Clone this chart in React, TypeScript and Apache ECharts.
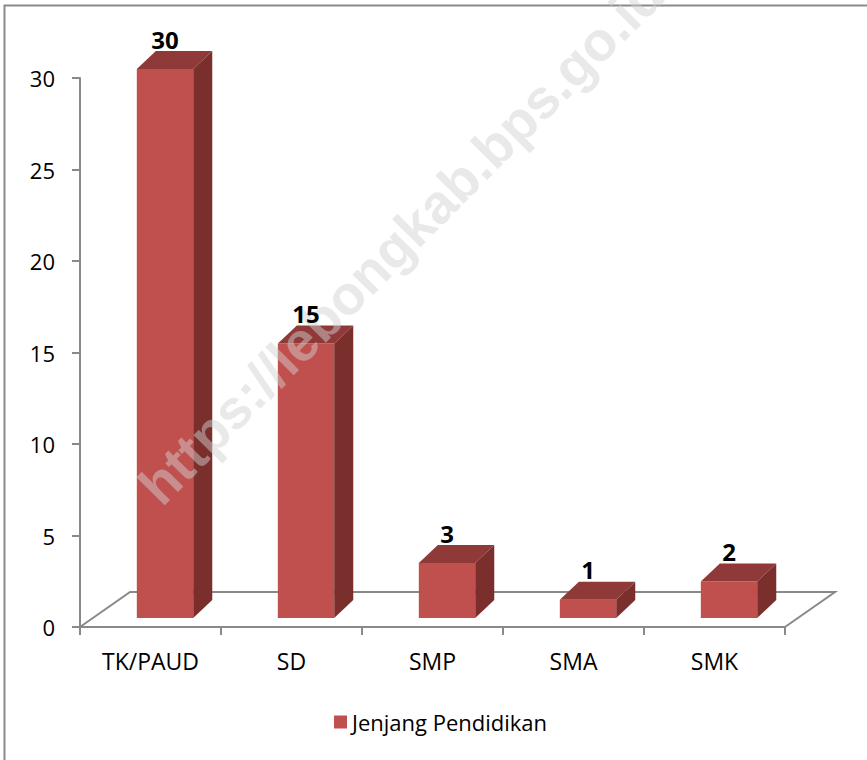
import React, { useEffect, useRef } from "react";
import * as echarts from "echarts";

const categories = ["TK/PAUD", "SD", "SMP", "SMA", "SMK"];
const values = [30, 15, 3, 1, 2];
const seriesName = "Jenjang Pendidikan";
const yTicks = { min: 0, max: 30, interval: 5 };
const watermark = "https://lebongkab.bps.go.id";

const FONT = "'Open Sans', 'Noto Sans', sans-serif";
const FRONT = "#c0504d";
const TOP = "#8f3a38";
const SIDE = "#7b2f2d";
const AXIS = "#898989";

// geometry helpers (relative to category band)
function barGeom(api: any, i: number, v: number) {
  const base = api.coord([i, 0]);
  const top = api.coord([i, v]);
  const band = api.size([1, 0])[0];
  const w = band * 0.4;
  const ox = band * 0.103;
  const oy = -9;
  const dx = band * 0.135;
  const dy = -18;
  const x0 = base[0] - w / 2 + ox;
  const x1 = x0 + w;
  const yb = base[1] + oy;
  const yt = top[1] + oy;
  return { w, dx, dy, x0, x1, yb, yt };
}

export default function App() {
  const ref = useRef<HTMLDivElement>(null);
  useEffect(() => {
    document.body.style.margin = "0";
    const chart = echarts.init(ref.current!, undefined, { renderer: "svg" });
    const n = categories.length;
    const barData = categories.map((c, i) => [i, values[i]]);
    chart.setOption({
      animation: false,
      backgroundColor: "#ffffff",
      grid: { left: 80, right: 82, top: 78, bottom: 133, containLabel: false },
      legend: {
        data: [seriesName],
        left: 329,
        top: 706,
        icon: "rect",
        itemWidth: 13,
        itemHeight: 13,
        itemGap: 6,
        textStyle: { fontFamily: FONT, fontSize: 22, color: "#000" },
      },
      xAxis: {
        type: "category",
        data: categories,
        axisLine: { show: true, lineStyle: { color: AXIS, width: 2 } },
        axisTick: { show: true, length: 8, lineStyle: { color: AXIS, width: 2 } },
        axisLabel: { color: "#000", fontFamily: FONT, fontSize: 23, margin: 22 },
        splitLine: { show: false },
      },
      yAxis: {
        type: "value",
        min: yTicks.min,
        max: yTicks.max,
        interval: yTicks.interval,
        axisLine: { show: true, lineStyle: { color: AXIS, width: 2 } },
        axisTick: { show: true, length: 8, lineStyle: { color: AXIS, width: 2 } },
        axisLabel: { color: "#000", fontFamily: FONT, fontSize: 22, margin: 25 },
        splitLine: { show: false },
      },
      graphic: [
        {
          type: "rect",
          shape: { x: 4.5, y: 5.5, width: 900, height: 800 },
          style: { fill: "none", stroke: "#8a8a8a", lineWidth: 2 },
          silent: true,
          z: -10,
        },
        {
          type: "text",
          x: 168,
          y: 514,
          rotation: 0.79,
          z: 100,
          silent: true,
          style: {
            text: watermark,
            fill: "rgba(208,208,208,0.48)",
            font: "bold 55px 'Liberation Sans', Arial, sans-serif",
            textAlign: "left",
            textVerticalAlign: "bottom",
          },
        },
      ],
      series: [
        {
          type: "custom",
          name: "floor",
          silent: true,
          data: [[0, 0]],
          z: 1,
          renderItem: (params: any, api: any) => {
            const p = api.coord([0, 0]);
            const band = api.size([1, 0])[0];
            const left = p[0] - band / 2;
            const right = left + band * n;
            const y = p[1];
            const bx = band * 0.355;
            const by = -35;
            return {
              type: "polyline",
              shape: {
                points: [
                  [left, y],
                  [left + bx, y + by],
                  [right + bx, y + by],
                  [right, y],
                ],
              },
              style: { stroke: AXIS, lineWidth: 2, fill: "none" },
            };
          },
        },
        {
          type: "custom",
          name: seriesName,
          itemStyle: { color: FRONT },
          data: barData,
          encode: { x: 0, y: 1 },
          z: 2,
          renderItem: (params: any, api: any) => {
            const g = barGeom(api, api.value(0), api.value(1));
            return {
              type: "group",
              children: [
                {
                  type: "rect",
                  shape: { x: g.x0, y: g.yt, width: g.w, height: g.yb - g.yt },
                  style: { fill: FRONT },
                },
                {
                  type: "polygon",
                  shape: {
                    points: [
                      [g.x0, g.yt],
                      [g.x0 + g.dx, g.yt + g.dy],
                      [g.x1 + g.dx, g.yt + g.dy],
                      [g.x1, g.yt],
                    ],
                  },
                  style: { fill: TOP },
                },
                {
                  type: "polygon",
                  shape: {
                    points: [
                      [g.x1, g.yt],
                      [g.x1 + g.dx, g.yt + g.dy],
                      [g.x1 + g.dx, g.yb + g.dy],
                      [g.x1, g.yb],
                    ],
                  },
                  style: { fill: SIDE },
                },
              ],
            };
          },
        },
        {
          type: "custom",
          name: "labels",
          silent: true,
          data: barData,
          encode: { x: 0, y: 1 },
          z: 200,
          renderItem: (params: any, api: any) => {
            const v = api.value(1);
            const g = barGeom(api, api.value(0), v);
            return {
              type: "text",
              style: {
                text: String(v),
                x: g.x0 + g.w / 2,
                y: g.yt - 30,
                textAlign: "center",
                textVerticalAlign: "middle",
                fill: "#000",
                font: `bold 24px ${FONT}`,
              },
            };
          },
        },
      ],
    });
    return () => chart.dispose();
  }, []);
  return <div ref={ref} style={{ width: 867, height: 760 }} />;
}
